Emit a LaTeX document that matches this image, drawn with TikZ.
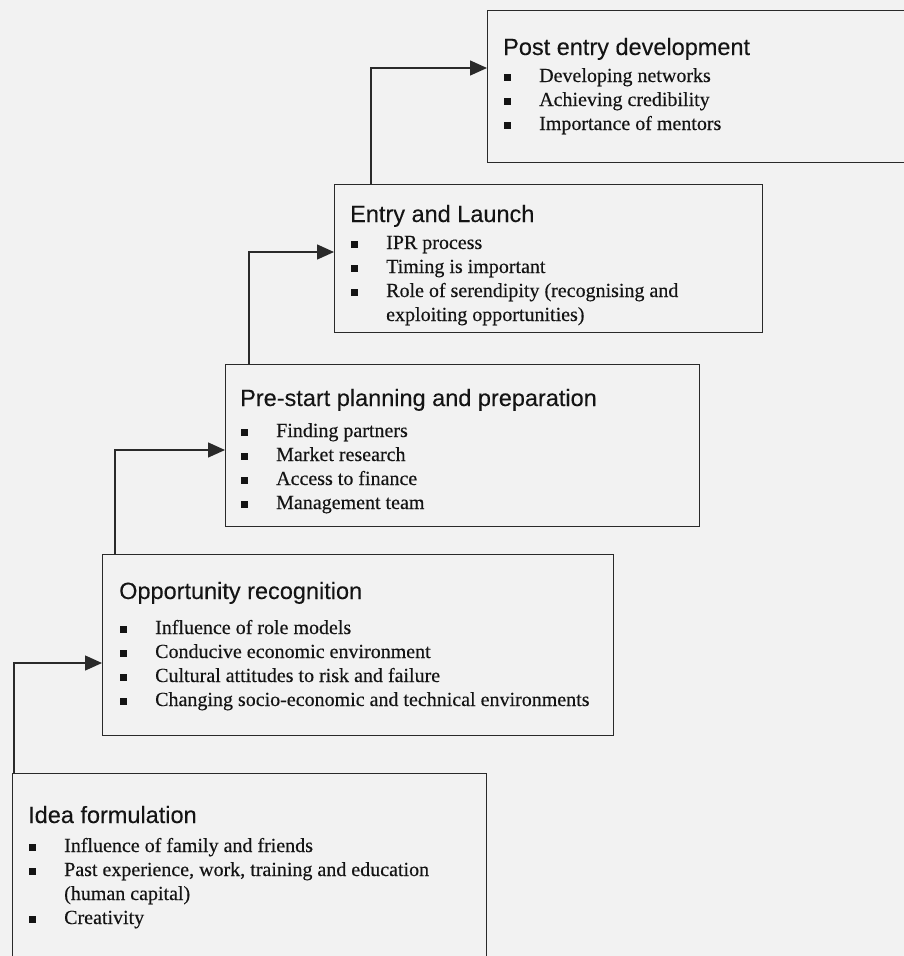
\documentclass[tikz,border=0pt]{standalone}
\usepackage{fontspec}
\setmainfont[FakeBold=0.35]{Liberation Serif}
\newfontfamily\headfont[FakeBold=0.2]{Liberation Sans}
\usetikzlibrary{arrows.meta}
\definecolor{paper}{HTML}{F2F2F2}
\definecolor{ink}{HTML}{141414}
\definecolor{edge}{HTML}{2A2A2A}
% square bullet and a fixed-width bullet cell
\newcommand\sqb{\hspace{1pt}\rule[1.5pt]{6.5pt}{6.5pt}}
\newcommand\bl{\makebox[36pt][l]{\sqb}}
% heading followed by bullet rows; #2 is the extra space under the heading
\newcommand\stagebody[3]{%
  \begin{tabular}[t]{@{}l@{}l@{}}
    \multicolumn{2}{@{}l@{}}{\headfont\fontsize{23.5}{24}\selectfont #1}\\[#2]
    #3
  \end{tabular}}
\begin{document}
\begin{tikzpicture}[x=1pt,y=-1pt,
  stagebox/.style={draw=edge, line width=1.4pt, fill=paper, inner sep=0pt, anchor=north west},
  stagetext/.style={inner sep=0pt, anchor=base west, text=ink, font=\fontsize{20}{24}\selectfont},
  link/.style={draw=edge, line width=1.4pt, -{Triangle[length=17pt,width=15pt]}}]
\path[use as bounding box, fill=paper] (0,0) rectangle (904,956);
\clip (0,0) rectangle (904,956);

% stage boxes
\node[stagebox, minimum width=474pt, minimum height=200pt] (b1) at (12,773) {};
\node[stagebox, minimum width=511pt, minimum height=181pt] (b2) at (102,554) {};
\node[stagebox, minimum width=474pt, minimum height=162pt] (b3) at (225,364) {};
\node[stagebox, minimum width=428pt, minimum height=148pt] (b4) at (334,184) {};
\node[stagebox, minimum width=440pt, minimum height=152pt] (b5) at (487,10) {};

% stage contents
\node[stagetext] (t1) at (28,823) {\stagebody{Idea formulation}{5pt}{%
  \bl & Influence of family and friends\\
  \bl & Past experience, work, training and education\\
      & (human capital)\\
  \bl & Creativity}};
\node[stagetext] (t2) at (119,599) {\stagebody{Opportunity recognition}{11pt}{%
  \bl & Influence of role models\\
  \bl & Conducive economic environment\\
  \bl & Cultural attitudes to risk and failure\\
  \bl & Changing socio-economic and technical environments}};
\node[stagetext] (t3) at (240,406) {\stagebody{Pre-start planning and preparation}{7pt}{%
  \bl & Finding partners\\
  \bl & Market research\\
  \bl & Access to finance\\
  \bl & Management team}};
\node[stagetext] (t4) at (350,222) {\stagebody{Entry and Launch}{3pt}{%
  \bl & IPR process\\
  \bl & Timing is important\\
  \bl & Role of serendipity (recognising and\\
      & exploiting opportunities)}};
\node[stagetext] (t5) at (503,55) {\stagebody{Post entry development}{3pt}{%
  \bl & Developing networks\\
  \bl & Achieving credibility\\
  \bl & Importance of mentors}};

% step connectors
\draw[link] ([xshift=2pt]b1.north west) |- ([yshift=-109pt]b2.north west);
\draw[link] ([xshift=13pt]b2.north west) |- ([yshift=-86pt]b3.north west);
\draw[link] ([xshift=24pt]b3.north west) |- ([yshift=-68pt]b4.north west);
\draw[link] ([xshift=37pt]b4.north west) |- ([yshift=-58pt]b5.north west);
\end{tikzpicture}
\end{document}
